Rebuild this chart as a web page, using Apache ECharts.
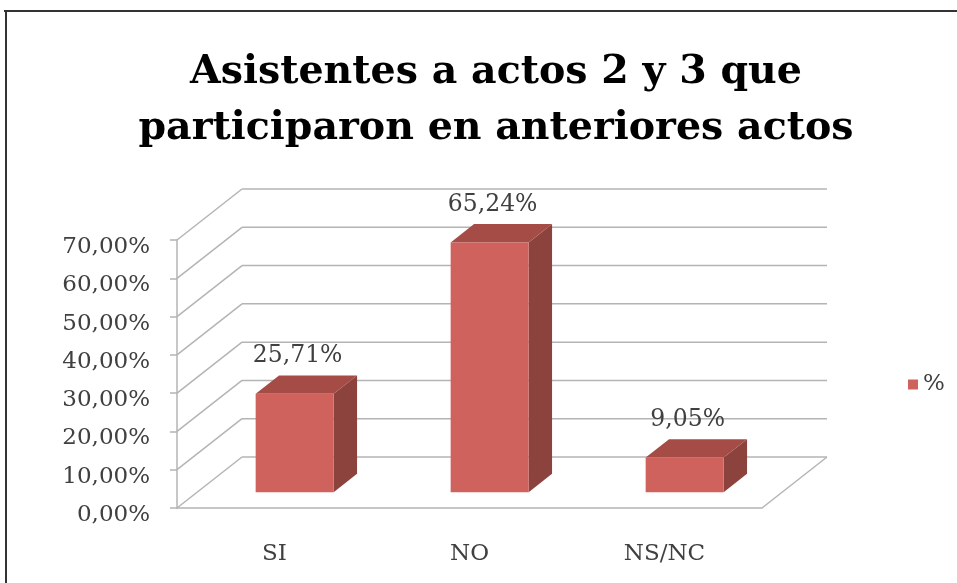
<!DOCTYPE html>
<html>
<head>
<meta charset="utf-8">
<script src="https://cdn.jsdelivr.net/npm/echarts@6/dist/echarts.min.js"></script>
<style>
  html, body { margin: 0; padding: 0; background: #fff; }
  #chart { width: 957px; height: 583px; }
</style>
</head>
<body>
<div id="chart"></div>
<script>
// datos
const categories = ['SI', 'NO', 'NS/NC']
const percentValues = [25.71, 65.24, 9.05]
const yTicks = [0, 10, 20, 30, 40, 50, 60, 70]

// perspectiva 3D (px)
const DX = 65
const DY = -51
const F1 = 0.31   // cara frontal de la barra
const F2 = 0.67   // cara trasera
const GRID_COLOR = '#b4b4b4'
const TEXT_COLOR = '#404040'
const SERIF = "'DejaVu Serif', 'Liberation Serif', serif"

const fmt = v => v.toFixed(2).replace('.', ',') + '%'

const chart = echarts.init(document.getElementById('chart'))

const option = {
  animation: false,
  title: {
    text: 'Asistentes a actos 2 y 3 que\nparticiparon en anteriores actos',
    left: 491,
    top: 40,
    textAlign: 'center',
    textStyle: {
      fontFamily: SERIF,
      fontWeight: 'bold',
      fontSize: 39.5,
      lineHeight: 56,
      color: '#000'
    }
  },
  legend: {
    data: ['%'],
    left: 903,
    top: 368,
    icon: 'rect',
    itemWidth: 10,
    itemHeight: 10,
    itemGap: 6,
    textStyle: { fontFamily: SERIF, fontSize: 23, color: TEXT_COLOR }
  },
  grid: { left: 177, right: 195, top: 240, bottom: 75 },
  xAxis: {
    type: 'category',
    data: categories,
    axisLine: { lineStyle: { color: GRID_COLOR, width: 1.5 } },
    axisTick: { length: 7, lineStyle: { color: GRID_COLOR, width: 1.5 } },
    axisLabel: { margin: 35, fontFamily: SERIF, fontSize: 23, color: TEXT_COLOR }
  },
  yAxis: {
    type: 'value',
    min: 0,
    max: 70,
    interval: 10,
    axisLine: { show: true, lineStyle: { color: GRID_COLOR, width: 1.5 } },
    axisTick: { show: true, length: 7, lineStyle: { color: GRID_COLOR, width: 1.5 } },
    splitLine: { show: false },
    axisLabel: {
      margin: 27,
      fontFamily: SERIF,
      fontSize: 23,
      color: TEXT_COLOR,
      formatter: v => '{a|' + fmt(v) + '}',
      rich: {
        a: { fontFamily: SERIF, fontSize: 23, color: TEXT_COLOR, padding: [14, 0, 0, 0] }
      }
    }
  },
  graphic: [
    { type: 'line', shape: { x1: 4, y1: 11, x2: 957, y2: 11 }, style: { stroke: '#333', lineWidth: 2 } },
    { type: 'line', shape: { x1: 6, y1: 11, x2: 6, y2: 583 }, style: { stroke: '#333', lineWidth: 2 } }
  ],
  series: [
    {
      // paredes: fondo, lateral y suelo
      name: 'walls',
      type: 'custom',
      z: 1,
      silent: true,
      encode: { x: 0, y: 1 },
      data: yTicks.map(v => [0, v]),
      renderItem: function (params, api) {
        const cs = params.coordSys
        const y = api.coord([0, api.value(1)])[1]
        const x0 = cs.x
        const x1 = cs.x + cs.width
        const style = { stroke: GRID_COLOR, lineWidth: 1.5 }
        const children = [
          { type: 'line', shape: { x1: x0 + DX, y1: y + DY, x2: x1 + DX, y2: y + DY }, style },
          { type: 'line', shape: { x1: x0, y1: y, x2: x0 + DX, y2: y + DY }, style }
        ]
        if (api.value(1) === 0) {
          children.push({ type: 'line', shape: { x1: x1, y1: y, x2: x1 + DX, y2: y + DY }, style })
        }
        return { type: 'group', children }
      }
    },
    {
      name: '%',
      type: 'custom',
      z: 3,
      itemStyle: { color: '#cf625d' },
      encode: { x: 0, y: 1 },
      data: percentValues.map((v, i) => [i, v]),
      renderItem: function (params, api) {
        const v = api.value(1)
        const top = api.coord([api.value(0), v])
        const base = api.coord([api.value(0), 0])
        const w = api.size([1, 0])[0] * 0.4
        const L = top[0] - w / 2
        const R = top[0] + w / 2
        const T = top[1]
        const B = base[1]
        const fx = DX * F1, fy = DY * F1
        const bx = DX * F2, by = DY * F2
        return {
          type: 'group',
          children: [
            {
              type: 'polygon',
              shape: { points: [[R + fx, T + fy], [R + bx, T + by], [R + bx, B + by], [R + fx, B + fy]] },
              style: { fill: '#8c433e' }
            },
            {
              type: 'polygon',
              shape: { points: [[L + fx, T + fy], [R + fx, T + fy], [R + bx, T + by], [L + bx, T + by]] },
              style: { fill: '#a54c47' }
            },
            {
              type: 'rect',
              shape: { x: L + fx, y: T + fy, width: w, height: B - T },
              style: { fill: '#cf625d' }
            },
            {
              type: 'text',
              x: top[0] + fx + 3,
              y: T + fy - 38,
              style: {
                text: fmt(v),
                align: 'center',
                verticalAlign: 'middle',
                fontFamily: SERIF,
                fontSize: 23.5,
                fill: TEXT_COLOR
              }
            }
          ]
        }
      }
    }
  ]
}

chart.setOption(option)
</script>
</body>
</html>
